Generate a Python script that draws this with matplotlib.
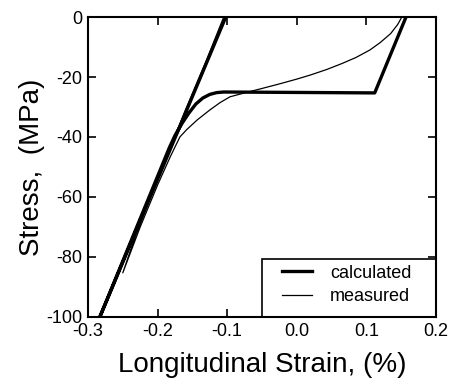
import matplotlib
matplotlib.use("Agg")
import matplotlib.pyplot as plt
from matplotlib.patches import Rectangle

plt.rcParams['font.family'] = ['Liberation Sans', 'DejaVu Sans']

# calculated response (loading then unloading)
calc_strain = [0.157, 0.112, -0.105, -0.115, -0.125, -0.135, -0.145, -0.155, -0.165, -0.175, -0.183, -0.283, -0.102]
calc_stress = [0.0, -25.3, -25.0, -25.2, -25.8, -27.0, -29.0, -32.0, -35.5, -39.5, -43.5, -100.0, 0.0]

# measured response (loading then unloading)
meas_strain = [0.151, 0.145, 0.135, 0.120, 0.105, 0.085, 0.065, 0.043, 0.020, 0.0,
               -0.025, -0.053, -0.075, -0.096, -0.110, -0.125, -0.143, -0.158, -0.168,
               -0.182, -0.200, -0.225, -0.250,
               -0.232, -0.200, -0.160, -0.130, -0.105]
meas_stress = [0.0, -2.5, -5.5, -8.5, -11.0, -13.5, -15.5, -17.5, -19.3, -20.7,
               -22.3, -24.0, -25.3, -26.6, -28.5, -31.0, -34.3, -37.5, -40.0,
               -46.7, -56.0, -70.0, -85.3,
               -73.0, -54.0, -31.0, -14.5, 0.0]

x_ticks = [-0.3, -0.2, -0.1, 0.0, 0.1, 0.2]
x_ticklabels = ['-0.3', '-0.2', '-0.1', '0.0', '0.1', '0.2']
y_ticks = [-100, -80, -60, -40, -20, 0]
y_ticklabels = ['-100', '-80', '-60', '-40', '-20', '0']

fig = plt.figure(figsize=(4.56, 3.87), dpi=100)
ax = fig.add_axes([0.193, 0.181, 0.763, 0.775])

ax.plot(calc_strain, calc_stress, color='black', lw=2.4, label='calculated', solid_joinstyle='round')
ax.plot(meas_strain, meas_stress, color='black', lw=0.9, label='measured')

ax.set_xlim(-0.3, 0.2)
ax.set_ylim(-100, 0)
ax.set_xticks(x_ticks)
ax.set_xticklabels(x_ticklabels)
ax.set_yticks(y_ticks)
ax.set_yticklabels(y_ticklabels)
ax.tick_params(direction='in', length=6, width=1.2, labelsize=13, top=True, right=True, pad=4)
for s in ax.spines.values():
    s.set_linewidth(1.5)
    s.set_zorder(6)

ax.set_xlabel('Longitudinal Strain, (%)', fontsize=20, labelpad=9)
ax.set_ylabel('Stress,  (MPa)', fontsize=20, labelpad=1)

# legend box (frame drawn separately so it can be wider than its content)
ax.add_patch(Rectangle((0.5, 0.0), 0.5, 0.193, transform=ax.transAxes,
                       facecolor='white', edgecolor='black', lw=1.2, zorder=4))
leg = ax.legend(loc='center left', bbox_to_anchor=(0.557, 0.107), fontsize=13,
                frameon=False, borderaxespad=0, borderpad=0,
                handlelength=1.67, handletextpad=1.0, labelspacing=0.35)
leg.set_zorder(5)

fig.savefig('out.png', dpi=100)
